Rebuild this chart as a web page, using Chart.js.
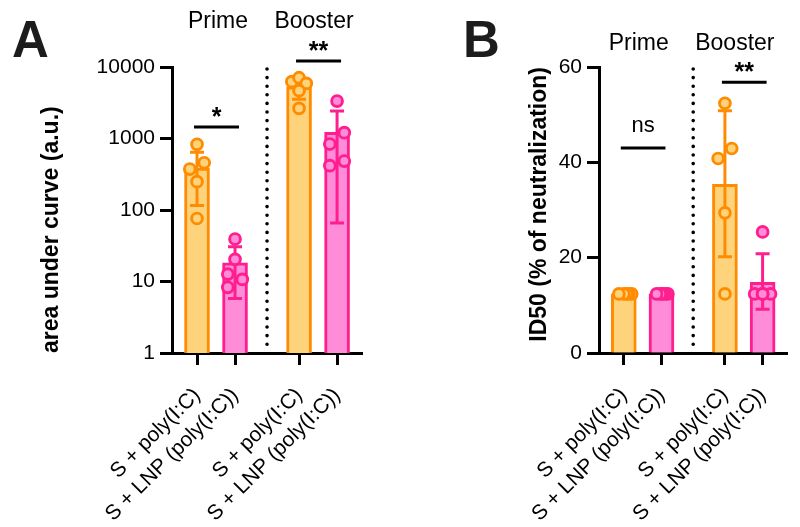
<!DOCTYPE html>
<html><head><meta charset="utf-8">
<script src="https://cdn.jsdelivr.net/npm/chart.js@4/dist/chart.umd.min.js"></script>
<style>
html,body{margin:0;padding:0;background:#fff;}
#wrap{position:relative;width:800px;height:527px;overflow:hidden;}
canvas{position:absolute;top:0;}
</style></head><body>
<div id="wrap">
<canvas id="cA" width="400" height="527" style="left:0"></canvas>
<canvas id="cB" width="400" height="527" style="left:400px"></canvas>
</div>
<script>
// ---------------- data ----------------
const groups = ['Prime', 'Booster'];
const categories = ['S + poly(I:C)', 'S + LNP (poly(I:C))', 'S + poly(I:C)', 'S + LNP (poly(I:C))'];

// Panel A: area under curve (a.u.), log scale
const aucMean = [386, 18.3, 5300, 1220];
const aucLow  = [116, 5.8, 3530, 66];
const aucHigh = [640, 30.7, 7030, 2425];
const aucPoints = [
  [830, 458, 374, 249, 76],
  [39.3, 20.4, 12.7, 10.7, 8.3],
  [6240, 7080, 5900, 4670, 2640],
  [3340, 1205, 837, 417, 484]
];
const aucTicks = [1, 10, 100, 1000, 10000];
const aucSig = [
  { from: 0, to: 1, label: '*',  level: 1450 },
  { from: 2, to: 3, label: '**', level: 12100 }
];

// Panel B: ID50 (% of neutralization)
const id50Mean = [12.4, 12.4, 35.4, 14.8];
const id50Low  = [12.4, 12.4, 20.2, 9.2];
const id50High = [12.4, 12.4, 50.8, 20.8];
const id50Points = [
  [12.4, 12.4, 12.4, 12.4, 12.4],
  [12.4, 12.4, 12.4, 12.4, 12.4],
  [52.4, 42.9, 40.8, 29.4, 12.4],
  [25.4, 12.4, 12.4, 12.4, 12.4]
];
const id50Ticks = [0, 20, 40, 60];
const id50Sig = [
  { from: 0, to: 1, label: 'ns', level: 43 },
  { from: 2, to: 3, label: '**', level: 56.8 }
];

// ---------------- layout / style ----------------
const FONT = '"Liberation Sans", Arial, Helvetica, sans-serif';
const slot = [0, 1, 2.684, 3.684];
const X_MIN = -0.658, X_MAX = 4.34;
const orangeLine = '#FF8C00', orangeFill = '#FFD37C';
const pinkLine = '#FF1E8E', pinkFill = '#FF8CD8';
const lineCols = [orangeLine, pinkLine, orangeLine, pinkLine];
const fillCols = [orangeFill, pinkFill, orangeFill, pinkFill];
const jitterA = [
  [0, 0.19, -0.19, 0, 0],
  [0, 0, -0.19, 0.19, -0.19],
  [-0.19, 0, 0.19, 0, 0],
  [0, 0.19, -0.19, -0.19, 0.19]
];
const jitterB = [
  [0.21, 0.13, 0.08, 0, -0.13],
  [0.17, 0.1, 0.03, -0.03, -0.13],
  [0, 0.18, -0.18, 0, 0],
  [0, 0.21, -0.21, 0, 0]
];

Chart.defaults.font.family = FONT;
Chart.defaults.color = '#000';

const errorBars = {
  id: 'errorBars',
  afterDatasetDraw(chart, args, opts) {
    if (args.meta.type !== 'bar' || !opts.low) return;
    const { ctx } = chart;
    const y = chart.scales.y;
    ctx.save();
    ctx.lineWidth = 3;
    ctx.lineCap = 'butt';
    args.meta.data.forEach((bar, i) => {
      if (opts.low[i] === opts.high[i]) return;
      const cx = bar.x;
      const yl = y.getPixelForValue(opts.low[i]);
      const yh = y.getPixelForValue(opts.high[i]);
      ctx.strokeStyle = lineCols[i];
      ctx.beginPath();
      ctx.moveTo(cx, yl); ctx.lineTo(cx, yh);
      ctx.moveTo(cx - 7, yl); ctx.lineTo(cx + 7, yl);
      ctx.moveTo(cx - 7, yh); ctx.lineTo(cx + 7, yh);
      ctx.stroke();
    });
    ctx.restore();
  }
};

const deco = {
  id: 'deco',
  afterDraw(chart, args, o) {
    const { ctx, chartArea } = chart;
    const x = chart.scales.x, y = chart.scales.y;
    ctx.save();
    // dotted divider between groups
    const dx = x.getPixelForValue((slot[1] + slot[2]) / 2);
    ctx.strokeStyle = '#000';
    ctx.lineWidth = 3.6;
    ctx.lineCap = 'round';
    ctx.setLineDash([0, 8.6]);
    ctx.beginPath();
    ctx.moveTo(dx, chartArea.top + 2);
    ctx.lineTo(dx, chartArea.bottom - 3);
    ctx.stroke();
    ctx.setLineDash([]);
    // group titles
    ctx.fillStyle = '#000';
    ctx.font = '23px ' + FONT;
    ctx.textAlign = 'center';
    ctx.textBaseline = 'alphabetic';
    groups.forEach((g, i) => {
      ctx.fillText(g, x.getPixelForValue(o.titleX[i]), o.titleY);
    });
    // significance
    o.sig.forEach(s => {
      const yy = y.getPixelForValue(s.level);
      const x1 = x.getPixelForValue(slot[s.from]) - 3;
      const x2 = x.getPixelForValue(slot[s.to]) + 4;
      ctx.lineWidth = 3;
      ctx.lineCap = 'butt';
      ctx.beginPath();
      ctx.moveTo(x1, yy); ctx.lineTo(x2, yy);
      ctx.stroke();
      const cx = (x1 + x2) / 2;
      if (s.label === 'ns') {
        ctx.font = '22px ' + FONT;
        ctx.fillText(s.label, cx, yy - 16);
      } else {
        ctx.font = 'bold 25px ' + FONT;
        ctx.fillText(s.label, cx, yy - 2);
      }
    });
    // panel letter
    ctx.font = 'bold 51px ' + FONT;
    ctx.textAlign = 'left';
    ctx.fillStyle = '#1c1c1c';
    ctx.fillText(o.letter, o.letterX, 57);
    ctx.restore();
  }
};

function makeChart(canvasId, cfg) {
  const barData = cfg.mean.map((m, i) => ({ x: slot[i], y: m }));
  const ptsFor = (cats) => {
    const arr = [];
    cats.forEach(i => cfg.points[i].forEach((v, j) => arr.push({ x: slot[i] + cfg.jitter[i][j], y: v })));
    return arr;
  };
  return new Chart(document.getElementById(canvasId), {
    type: 'bar',
    data: {
      datasets: [
        {
          type: 'bar', data: barData, order: 3,
          backgroundColor: fillCols, borderColor: lineCols,
          borderWidth: 3, borderSkipped: 'start', barThickness: 25
        },
        {
          type: 'scatter', data: ptsFor([0, 2]), order: 1,
          pointRadius: 5.4, pointBorderWidth: 2.9,
          pointBackgroundColor: orangeFill, pointBorderColor: orangeLine
        },
        {
          type: 'scatter', data: ptsFor([1, 3]), order: 1,
          pointRadius: 5.4, pointBorderWidth: 2.9,
          pointBackgroundColor: pinkFill, pointBorderColor: pinkLine
        }
      ]
    },
    options: {
      responsive: false, animation: false, events: [],
      layout: { padding: { left: 0, right: cfg.padRight, top: 67, bottom: 0 } },
      plugins: {
        legend: { display: false }, tooltip: { enabled: false },
        errorBars: { low: cfg.low, high: cfg.high },
        deco: { letter: cfg.letter, letterX: cfg.letterX, titleX: cfg.titleX, titleY: cfg.titleY, sig: cfg.sig }
      },
      scales: {
        x: {
          type: 'linear', min: X_MIN, max: X_MAX, offset: false,
          afterBuildTicks: s => { s.ticks = slot.map(v => ({ value: v })); },
          afterFit: s => { s.height = 174; },
          ticks: {
            autoSkip: false, minRotation: 45, maxRotation: 45, padding: 18,
            font: { size: 21 }, color: '#000',
            callback: (v, i) => categories[i]
          },
          grid: { display: true, drawOnChartArea: false, drawTicks: true, tickLength: 12, tickWidth: 3, tickColor: '#000', offset: false },
          border: { display: true, color: '#000', width: 3 }
        },
        y: {
          type: cfg.yType, min: cfg.yTicks[0], max: cfg.yTicks[cfg.yTicks.length - 1],
          afterBuildTicks: s => { s.ticks = cfg.yTicks.map(v => ({ value: v })); },
          afterFit: s => { s.width = cfg.yWidth; },
          ticks: { padding: 5, font: { size: 21 }, color: '#000', callback: v => String(v) },
          grid: { display: true, drawOnChartArea: false, drawTicks: true, tickLength: 12, tickWidth: 3, tickColor: '#000' },
          border: { display: true, color: '#000', width: 3 },
          title: {
            display: true, text: cfg.yTitle, color: '#000',
            font: { size: 23, weight: 'bold' }, align: cfg.yTitleAlign,
            padding: { top: cfg.yTitlePad, bottom: 0 }
          }
        }
      }
    },
    plugins: [errorBars, deco]
  });
}

makeChart('cA', {
  mean: aucMean, low: aucLow, high: aucHigh, points: aucPoints, jitter: jitterA,
  yType: 'logarithmic', yTicks: aucTicks, yWidth: 172, padRight: 38,
  yTitle: 'area under curve (a.u.)', yTitleAlign: 'start', yTitlePad: 38,
  letter: 'A', letterX: 12, titleX: [0.553, 3.079], titleY: 28, sig: aucSig
});
makeChart('cB', {
  mean: id50Mean, low: id50Low, high: id50High, points: id50Points, jitter: jitterB,
  yType: 'linear', yTicks: id50Ticks, yWidth: 199, padRight: 12,
  yTitle: 'ID50 (% of neutralization)', yTitleAlign: 'end', yTitlePad: 126,
  letter: 'B', letterX: 63, titleX: [0.395, 2.947], titleY: 50, sig: id50Sig
});
</script>
</body></html>
